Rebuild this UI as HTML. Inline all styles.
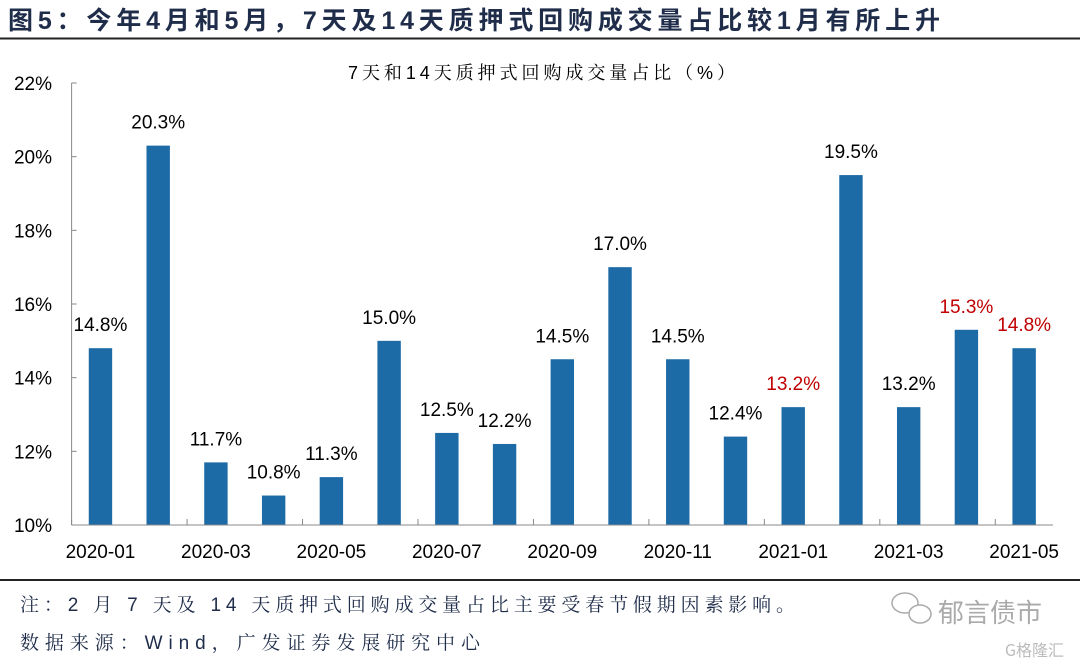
<!DOCTYPE html>
<html><head><meta charset="utf-8"><style>
body{margin:0;width:1080px;height:662px;background:#fff;overflow:hidden;font-family:"Liberation Sans","Noto Sans CJK SC",sans-serif}
</style></head><body>
<svg width="1080" height="662">
<text x="8" y="29" font-size="25" font-weight="bold" fill="#1f2d4a" textLength="932" lengthAdjust="spacing" font-family="Liberation Sans, Noto Sans CJK SC, sans-serif">图5：今年4月和5月，7天及14天质押式回购成交量占比较1月有所上升</text>
<line x1="0" y1="38.5" x2="1080" y2="38.5" stroke="#222" stroke-width="2"/>
<text x="348" y="79" font-size="18" fill="#000" textLength="387" lengthAdjust="spacing" font-family="Liberation Sans, Noto Serif CJK SC, serif">7天和14天质押式回购成交量占比（%）</text>
<g id="plot"></g>
<line x1="0" y1="580" x2="1080" y2="580" stroke="#222" stroke-width="2"/>
<text x="20" y="611" font-size="19" fill="#1f2d4a" textLength="775" lengthAdjust="spacing" font-family="Liberation Sans, Noto Serif CJK SC, serif">注：2 月 7 天及 14 天质押式回购成交量占比主要受春节假期因素影响。</text>
<text x="20" y="649" font-size="19" fill="#1f2d4a" textLength="460" lengthAdjust="spacing" font-family="Liberation Sans, Noto Serif CJK SC, serif">数据来源：Wind，广发证券发展研究中心</text>
<text x="938" y="622" font-size="26" fill="#aaa" font-family="Noto Sans CJK SC, sans-serif">郁言债市</text>
<g fill="none" stroke="#aaa" stroke-width="1.5"><ellipse cx="905" cy="603" rx="13" ry="10"/><ellipse cx="920" cy="614" rx="11" ry="9" fill="#fff"/></g>
<text x="1005" y="656" font-size="16" fill="#bbb" font-family="Noto Sans CJK SC, sans-serif">G格隆汇</text>
</svg>
<script>
const categories=["2020-01","2020-02","2020-03","2020-04","2020-05","2020-06","2020-07","2020-08","2020-09","2020-10","2020-11","2020-12","2021-01","2021-02","2021-03","2021-04","2021-05"];
const values=[14.8,20.3,11.7,10.8,11.3,15.0,12.5,12.2,14.5,17.0,14.5,12.4,13.2,19.5,13.2,15.3,14.8];
const highlighted=[12,15,16];
const yTicks=[10,12,14,16,18,20,22];
const ns="http://www.w3.org/2000/svg";
const g=document.getElementById('plot');
const X0=71.6,X1=1053,Y0=525,Y1=83,YMIN=10,YMAX=22;
const step=(X1-X0)/categories.length;
const y=v=>Y0-(v-YMIN)/(YMAX-YMIN)*(Y0-Y1);
const xc=i=>X0+step*(i+0.5);
function mk(t,a){const e=document.createElementNS(ns,t);for(const k in a)e.setAttribute(k,a[k]);g.appendChild(e);return e;}
yTicks.forEach(v=>{
 const t=mk('text',{x:52,y:y(v)+7,'font-size':19,'text-anchor':'end',fill:'#000'});t.textContent=v+'%';
 
 
 const l=mk('line',{x1:X0,x2:X0+5,y1:y(v),y2:y(v),stroke:'#888'});
 
 
});
const ya=mk('line',{x1:X0,x2:X0,y1:Y1,y2:Y0,stroke:'#888'});


values.forEach((v,i)=>{
 const b=mk('rect',{x:xc(i)-11.7,y:y(v),width:23.4,height:Y0-y(v),fill:'#1c6aa6'});
 
 
 const t=mk('text',{x:xc(i),y:y(v)-17,'font-size':19,'text-anchor':'middle',fill:highlighted.includes(i)?'#c00000':'#000'});
 t.textContent=v.toFixed(1)+'%';
 
 
});
const xa=mk('line',{x1:X0,x2:X1,y1:Y0,y2:Y0,stroke:'#888'});


categories.forEach((c,i)=>{
 if(i%2===0){
  const tk=mk('line',{x1:X0+step*i,x2:X0+step*i,y1:Y0,y2:Y0-6,stroke:'#888'});
  
  
  const t=mk('text',{x:xc(i),y:558,'font-size':19,'text-anchor':'middle',fill:'#000'});t.textContent=c;
  
  
 }
});
</script>
</body></html>
